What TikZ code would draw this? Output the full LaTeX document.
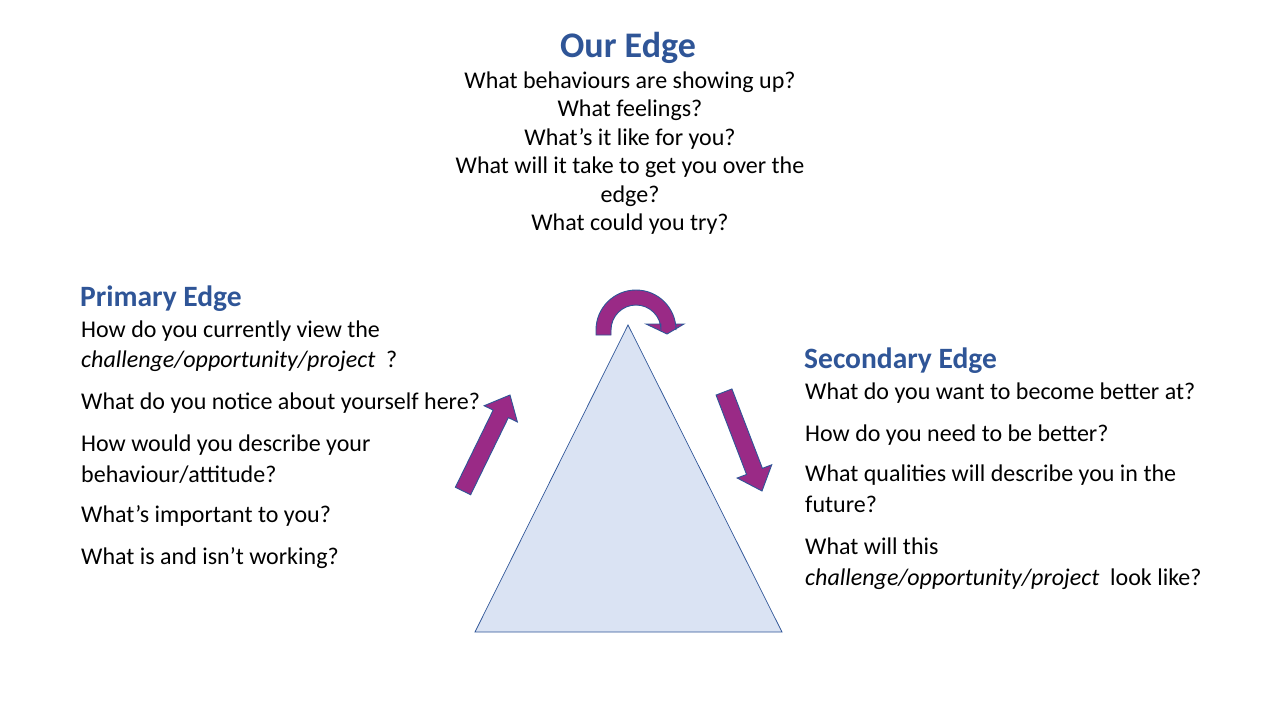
\documentclass[tikz,border=0pt]{standalone}
\usepackage{fontspec}
\setmainfont{Carlito}
\usetikzlibrary{calc}

\definecolor{edgeblue}{HTML}{2F5597}
\definecolor{edgepurple}{HTML}{9A2A86}
\definecolor{trifill}{HTML}{DAE3F3}

% straight block arrow from tail #1 to tip #2
\newcommand{\blockarrow}[2]{%
	\coordinate (hb) at ($(#2)!21pt!(#1)$);
	\filldraw[arrowshape] ($(#1)!8.5pt!90:(#2)$) -- ($(hb)!8.5pt!-90:(#1)$)
	-- ($(hb)!18.5pt!-90:(#1)$) -- (#2) -- ($(hb)!18.5pt!90:(#1)$)
	-- ($(hb)!8.5pt!90:(#1)$) -- ($(#1)!8.5pt!-90:(#2)$) -- cycle;}

\begin{document}
\begin{tikzpicture}[x=1pt, y=-1pt,
	qtext/.style={anchor=base west, inner sep=0pt, font=\fontsize{24}{29}\selectfont},
	qhead/.style={anchor=base west, inner sep=0pt, text=edgeblue, font=\fontsize{29.5}{35}\selectfont\bfseries},
	arrowshape/.style={fill=edgepurple, draw=edgeblue, line width=0.9pt, line join=miter},
	trishape/.style={fill=trifill, draw=edgeblue, line width=0.7pt}]
	\fill[white] (0,0) rectangle (1280,720);
	\useasboundingbox (0,0) rectangle (1280,720);

	% top block
	\node[anchor=base, inner sep=0pt, text=edgeblue, font=\fontsize{36}{42}\selectfont\bfseries] (ourhead) at (628,57) {Our Edge};
	\foreach \name/\y/\txt in {our1/88/{What behaviours are showing up?},
		our2/116.5/{What feelings?},
		our3/145/{What’s it like for you?},
		our4/173.5/{What will it take to get you over the},
		our5/202/{edge?},
		our6/230.5/{What could you try?}}
		\node[qtext, anchor=base] (\name) at (630,\y) {\txt};

	% primary edge
	\node[qhead] (prihead) at (80,306) {Primary Edge};
	\node[qtext] (pri1) at (81,337) {How do you currently view the};
	\node[qtext] (pri2) at (81,367) {\itshape challenge/opportunity/project\upshape\ \ ?};
	\node[qtext] (pri3) at (81,409) {What do you notice about yourself here?};
	\node[qtext] (pri4) at (81,451) {How would you describe your};
	\node[qtext] (pri5) at (81,482) {behaviour/attitude?};
	\node[qtext] (pri6) at (81,522) {What’s important to you?};
	\node[qtext] (pri7) at (81,564) {What is and isn’t working?};

	% secondary edge
	\node[qhead] (sechead) at (804,368) {Secondary Edge};
	\node[qtext] (sec1) at (805,399) {What do you want to become better at?};
	\node[qtext] (sec2) at (805,441) {How do you need to be better?};
	\node[qtext] (sec3) at (805,481) {What qualities will describe you in the};
	\node[qtext] (sec4) at (805,512) {future?};
	\node[qtext] (sec5) at (805,554) {What will this};
	\node[qtext] (sec6) at (805,585) {\itshape challenge/opportunity/project\upshape\ \ look like?};

	% triangle
	\coordinate (apex) at (628,325);
	\coordinate (baseR) at (782,632);
	\coordinate (baseL) at (475,632);
	\filldraw[trishape] (apex) -- (baseR) -- (baseL) -- cycle;

	% arrows
	\coordinate (ltail) at (463,491);
	\coordinate (ltip) at (510,395);
	\blockarrow{ltail}{ltip}
	\coordinate (rtail) at (724,392);
	\coordinate (rtip) at (762,491);
	\blockarrow{rtail}{rtip}

	% curved arrow over the apex
	\filldraw[arrowshape] (596,335) -- (596,330) arc[start angle=180, end angle=360, radius=40]
	-- (676,324) -- (684,324) -- (667,334) -- (646,324) -- (661,324) -- (661,330)
	arc[start angle=360, end angle=180, radius=25] -- (611,335) -- cycle;
\end{tikzpicture}
\end{document}
